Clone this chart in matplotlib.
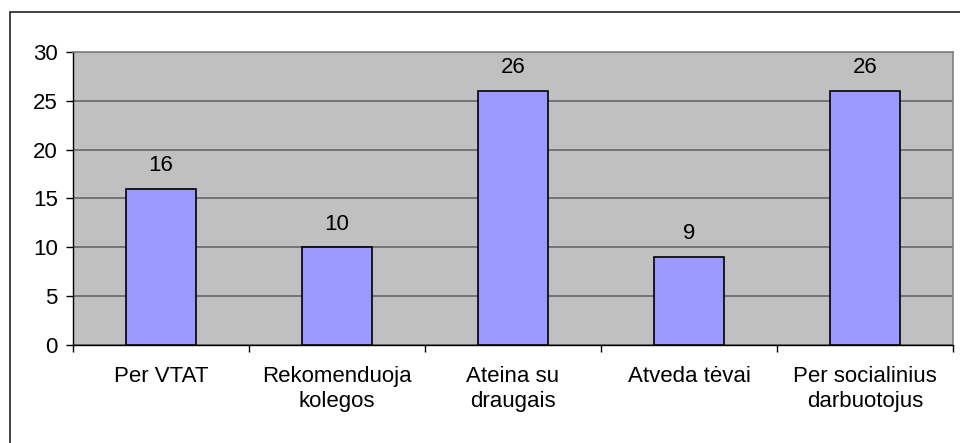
import matplotlib
matplotlib.use("Agg")
import matplotlib.pyplot as plt
from matplotlib.patches import Rectangle

categories = ["Per VTAT", "Rekomenduoja\nkolegos", "Ateina su\ndraugais", "Atveda tėvai", "Per socialinius\ndarbuotojus"]
values = [16, 10, 26, 9, 26]
yticks = [0, 5, 10, 15, 20, 25, 30]

plt.rcParams["font.family"] = ["Liberation Sans", "DejaVu Sans"]
FS = 16

W, H = 960, 443
fig = plt.figure(figsize=(W / 100, H / 100), dpi=100)

# outer chart frame
fig.patches.append(Rectangle((10 / W, -0.01), 1.0, 1 - 12 / H + 0.01, transform=fig.transFigure,
                             fill=False, edgecolor="#222222", linewidth=1.2))

ax = fig.add_axes([73 / W, 1 - 345 / H, (953 - 73) / W, (345 - 52) / H])
ax.set_facecolor("#C0C0C0")
x = range(len(categories))
ax.bar(x, values, width=0.4, color="#9999FF", edgecolor="black", linewidth=1.2, zorder=3)
for xi, v in zip(x, values):
    ax.text(xi, v + 1.3, str(v), ha="center", va="bottom", fontsize=FS, zorder=4)

ax.set_xlim(-0.5, len(categories) - 0.5)
ax.set_ylim(0, 30)
ax.set_yticks(yticks)
ax.set_yticklabels([str(t) for t in yticks], fontsize=FS)
ax.yaxis.grid(True, color="#666666", linewidth=1.2, zorder=1)
ax.set_axisbelow(True)

ax.set_xticks([i + 0.5 for i in range(-1, len(categories))])
ax.set_xticklabels([])
ax.set_xticks(list(x), minor=True)
ax.set_xticklabels(categories, minor=True, fontsize=FS, linespacing=1.25)
ax.tick_params(axis="x", which="minor", length=0, pad=15)
ax.tick_params(axis="x", which="major", length=5, width=1, color="black", direction="out")
ax.tick_params(axis="y", length=5, width=1, color="black", direction="out", pad=6)

for side in ("top", "right"):
    ax.spines[side].set_color("#808080")
    ax.spines[side].set_linewidth(1.2)
for side in ("left", "bottom"):
    ax.spines[side].set_color("black")
    ax.spines[side].set_linewidth(1.0)

fig.savefig("out.png", dpi=100)
